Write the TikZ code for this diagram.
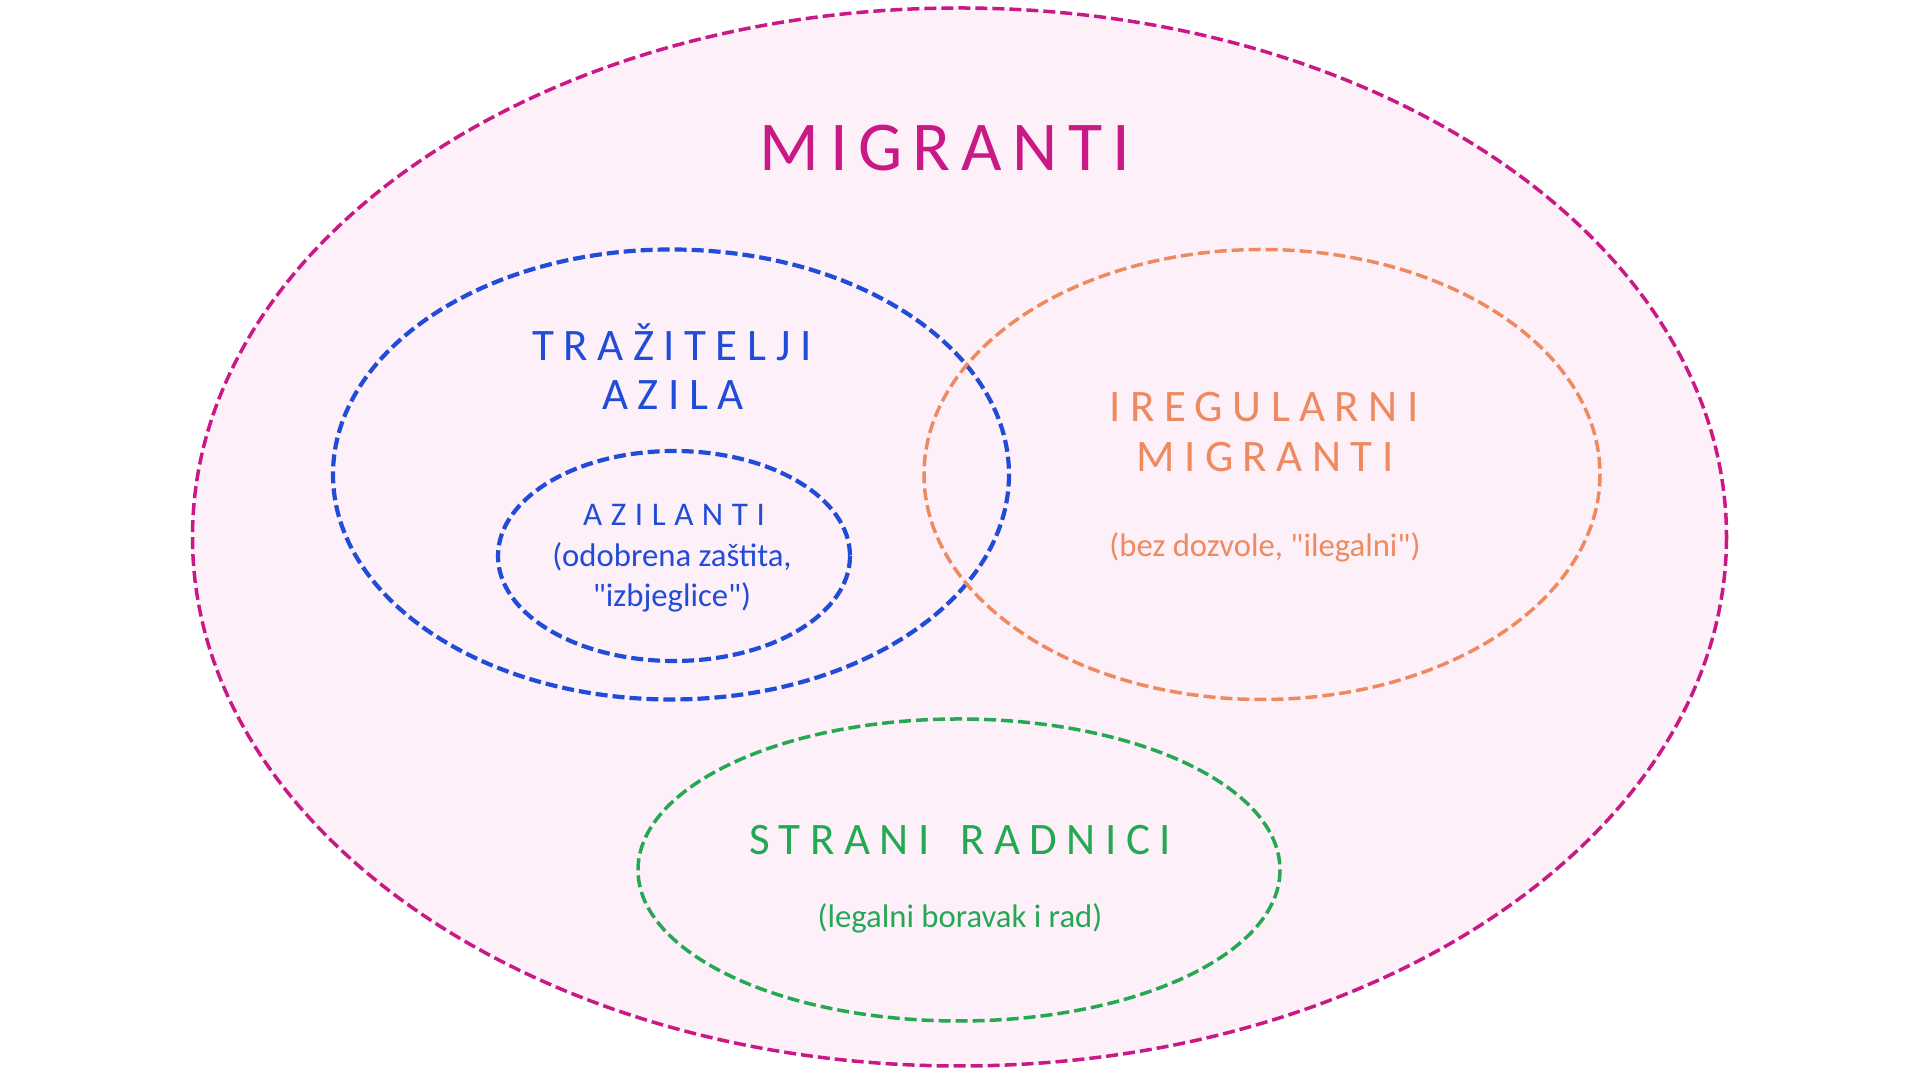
\documentclass[tikz,border=0pt]{standalone}
\usepackage{fontspec}
\setmainfont{Carlito}
\newfontfamily\bigspaced[LetterSpace=15]{Carlito}
\newfontfamily\spacedfont[LetterSpace=21]{Carlito}
\newfontfamily\subspaced[LetterSpace=26]{Carlito}
\usetikzlibrary{shapes.geometric}

\definecolor{migcol}{RGB}{200,25,135}
\definecolor{migfill}{RGB}{253,240,249}
\definecolor{azcol}{RGB}{32,76,216}
\definecolor{ircol}{RGB}{238,138,96}
\definecolor{srcol}{RGB}{36,168,84}

\tikzset{
  setline/.style={dash pattern=on 0.12cm off 0.05cm, line width=0.035cm},
  bigtitle/.style={anchor=base, font=\bigspaced\fontsize{19.9}{24}\selectfont},
  settitle/.style={anchor=base, font=\spacedfont\fontsize{12.8}{14}\selectfont},
  subtitle/.style={anchor=base, font=\subspaced\fontsize{9.4}{11}\selectfont},
  settext/.style={anchor=base, font=\fontsize{9.3}{11}\selectfont}
}

\begin{document}
\begin{tikzpicture}[x=0.01cm, y=-0.01cm]

    \useasboundingbox (0,0) rectangle (1920,1077);

    % Outer set: all migrants
    \draw[setline, draw=migcol, fill=migfill] (959.5,537) ellipse [x radius=767, y radius=529];

    % Asylum seekers and inner set
    \draw[setline, draw=azcol, line width=0.042cm] (671,474.5) ellipse [x radius=338, y radius=225];
    \draw[setline, draw=azcol, line width=0.042cm] (674,556) ellipse [x radius=176, y radius=105];

    % Irregular migrants
    \draw[setline, draw=ircol] (1262,474.5) ellipse [x radius=338, y radius=225];

    % Foreign workers
    \draw[setline, draw=srcol] (959,870) ellipse [x radius=321, y radius=151];

    % Labels
    \node[bigtitle, text=migcol] (migranti) at (945,171) {MIGRANTI};

    \node[settitle, text=azcol] (trazitelji) at (672,361) {TRAŽITELJI};
    \node[settitle, text=azcol] (azila) at (673,410) {AZILA};
    \node[subtitle, text=azcol] (azilanti) at (674,526) {AZILANTI};
    \node[settext, text=azcol] (zastita) at (672,567) {(odobrena zaštita,};
    \node[settext, text=azcol] (izbjeglice) at (672,607) {\textquotedbl izbjeglice\textquotedbl)};

    \node[settitle, text=ircol] (iregularni) at (1264,422) {IREGULARNI};
    \node[settitle, text=ircol] (irmigranti) at (1265,472) {MIGRANTI};
    \node[settext, text=ircol] (dozvola) at (1265,557) {(bez dozvole, \textquotedbl ilegalni\textquotedbl)};

    \node[settitle, text=srcol] (radnici) at (960,855) {STRANI\hspace{0.25em} RADNICI};
    \node[settext, text=srcol] (legalni) at (960,928) {(legalni boravak i rad)};

\end{tikzpicture}
\end{document}
